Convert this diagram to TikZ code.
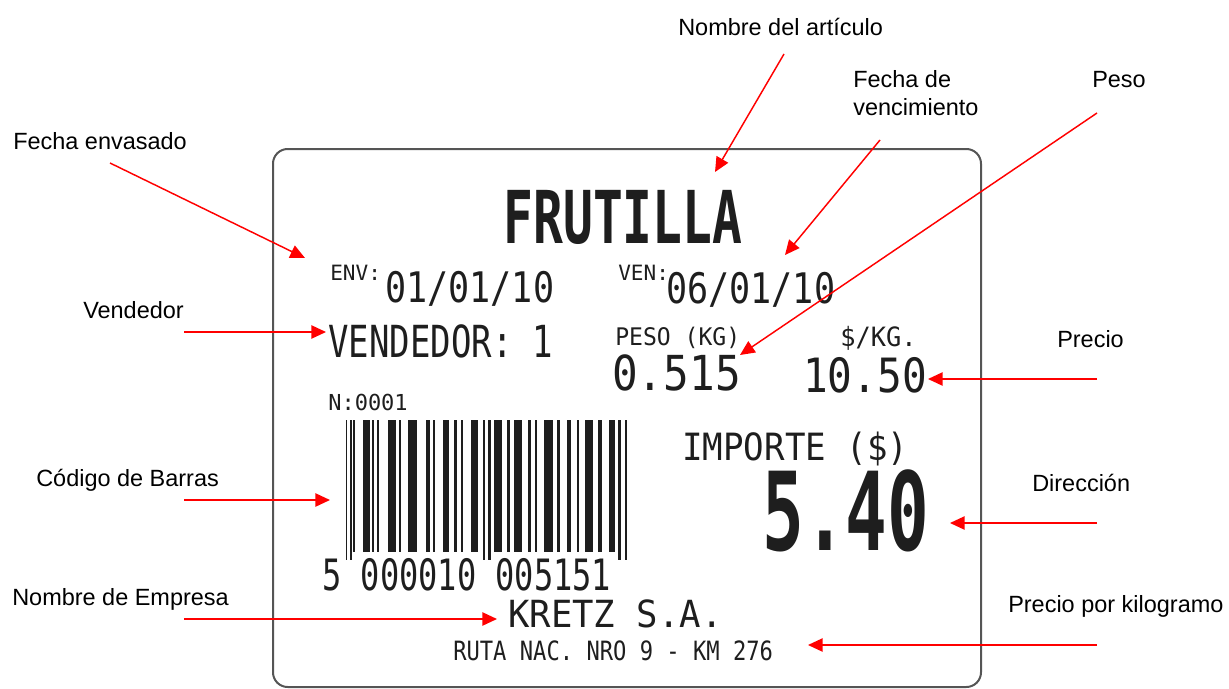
\documentclass[tikz,border=0pt]{standalone}
\usepackage{fontspec}
\setmainfont{Liberation Sans}
\newfontfamily\tickfont{DejaVu Sans Mono}
\usetikzlibrary{arrows.meta}
\definecolor{ink}{HTML}{1E1E1E}
\definecolor{edge}{HTML}{555555}
\newcommand{\tk}[1]{\fontsize{#1}{#1}\selectfont\tickfont}
\newcommand{\tall}[2]{\scalebox{1}[#1]{#2}}
\tikzset{
  note/.style={font=\fontsize{17.6}{21}\selectfont, anchor=base west, inner sep=0pt, align=left},
  print/.style={text=ink, anchor=base west, inner sep=0pt},
  pointer/.style={draw=red, line width=1.1pt, -{Triangle[length=11pt,width=10pt]}}
}

\begin{document}
\begin{tikzpicture}[x=0.75pt,y=-0.75pt]
			\useasboundingbox (0,0) rectangle (1229,689);
			% label
			\draw[edge, line width=1.5pt, rounded corners=11pt] (273,149) rectangle (981,687);
			\node[print, anchor=base, font=\tk{37.2}\bfseries] (name) at (623,243) {\tall{1.47}{FRUTILLA}};
			\node[print, font=\tk{15.8}] (envtag) at (330,280) {ENV:};
			\node[print, font=\tk{26.3}] (envdate) at (385,302) {\tall{1.2}{01/01/10}};
			\node[print, font=\tk{15.8}] (ventag) at (618,280) {VEN:};
			\node[print, font=\tk{26.3}] (vendate) at (666,303) {\tall{1.2}{06/01/10}};
			\node[print, font=\tk{25.5}] (seller) at (328,357) {\tall{1.3}{VENDEDOR: 1}};
			\node[print, font=\tk{17.3}] (wtag) at (615,345) {\tall{1.05}{PESO (KG)}};
			\node[print, font=\tk{32}] (weight) at (612,390) {\tall{1.13}{0.515}};
			\node[print, font=\tk{19}] (ptag) at (840,346) {\tall{1.05}{\$/KG.}};
			\node[print, font=\tk{30.8}] (price) at (803,392) {\tall{1.15}{10.50}};
			\node[print, font=\tk{16.5}] (num) at (328,410) {N:0001};
			\node[print, font=\tk{25.6}] (totaltag) at (682,460) {\tall{1.1}{IMPORTE (\$)}};
			\node[print, font=\tk{52}\bfseries] (total) at (762,550) {\tall{1.57}{5.40}};
			% barcode
			\foreach \bx/\bw/\by in {345.7/1.7/560,350/1.7/560,353.3/1.7/552,363.3/6.7/552,372.3/1.7/552,
			  376.7/2.3/552,387.7/8.3/552,399.3/2/552,408.3/8.3/552,426/4/552,432.7/2/552,443.3/5.7/552,
			  454.3/2.3/552,460.7/2.7/552,470.7/7.7/552,483.3/2/560,488.3/2.3/560,494.3/7.3/552,
			  507.3/2.7/552,514.3/7.3/552,528.3/2.3/552,535/2.3/552,544.3/8.3/552,556.7/3.3/552,
			  566.7/4/552,576.7/2/552,585/8.3/552,597.7/4/552,609.3/5.3/552,618.3/2.3/560,625/1.7/560}
			  \fill[ink] (\bx,420) rectangle (\bx+\bw,\by);
			\node[print, font=\tk{24}] (code) at (322,590) {\tall{1.35}{5 000010 005151}};
			\node[print, font=\tk{26.7}] (firm) at (508,627) {\tall{1.05}{KRETZ S.A.}};
			\node[print, font=\tk{16.6}] (road) at (453,660) {\tall{1.2}{RUTA NAC. NRO 9 - KM 276}};
			% notes
			\node[note] (nart) at (678,35) {Nombre del artículo};
			\node[note] (nven) at (853,115) {Fecha de\\vencimiento};
			\node[note] (npeso) at (1092,87) {Peso};
			\node[note] (nenv) at (13,149) {Fecha envasado};
			\node[note] (nvend) at (83,318) {Vendedor};
			\node[note] (nprecio) at (1057,347) {Precio};
			\node[note] (ncod) at (36,486) {Código de Barras};
			\node[note] (ndir) at (1032,491) {Dirección};
			\node[note] (nemp) at (12,605) {Nombre de Empresa};
			\node[note] (nppk) at (1008,612) {Precio por kilogramo};
			% pointers
			\coordinate (art0) at (784,54);   \coordinate (art1) at (715,172);
			\coordinate (ven0) at (880,140);  \coordinate (ven1) at (785,255);
			\coordinate (peso0) at (1097,113); \coordinate (peso1) at (740,355);
			\coordinate (env0) at (110,163);  \coordinate (env1) at (305,258);
			\coordinate (vend0) at (184,332); \coordinate (vend1) at (326,332);
			\coordinate (pre0) at (1097,379); \coordinate (pre1) at (928,379);
			\coordinate (cod0) at (184,500);  \coordinate (cod1) at (330,500);
			\coordinate (dir0) at (1097,523); \coordinate (dir1) at (950,523);
			\coordinate (emp0) at (184,619);  \coordinate (emp1) at (497,619);
			\coordinate (ppk0) at (1097,645); \coordinate (ppk1) at (808,645);
			\foreach \p in {art,ven,peso,env,vend,pre,cod,dir,emp,ppk}
			  \draw[pointer] (\p0) -- (\p1);
		\end{tikzpicture}
\end{document}
